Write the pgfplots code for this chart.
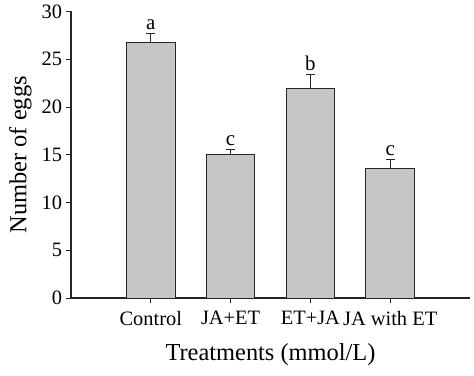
\documentclass[border=0pt]{standalone}
\usepackage{pgfplots}
\pgfplotsset{compat=1.18}
\usepackage{fontspec}
\setmainfont{Liberation Serif}
\begin{document}
\begin{tikzpicture}
\useasboundingbox (-71bp,-78bp) rectangle (403bp,298bp);
\begin{axis}[
  scale only axis,
  width=399bp, height=286.5bp,
  xmin=-1, xmax=4, ymin=0, ymax=30,
  axis x line*=bottom, axis y line*=left,
  axis line style={line width=1.1bp, black!85, -},
  xtick={0,1,2,3},
  xticklabels={Control, JA+ET, ET+JA, JA with ET},
  ytick={0,5,...,30},
  tick align=outside,
  major tick length=4.5bp,
  tick style={line width=0.9bp, black!85},
  tick label style={font=\fontsize{20.5}{24}\selectfont},
  /pgf/number format/assume math mode=true,
  xticklabel style={yshift=-5bp},
  yticklabel style={xshift=-1bp},
  xlabel={Treatments (mmol/L)},
  ylabel={Number of eggs},
  label style={font=\fontsize{24.5}{28}\selectfont},
  xlabel style={yshift=-11bp},
  ylabel style={yshift=3bp},
  clip=false,
]
\addplot[ybar, bar width=0.61, fill={rgb,255:red,198;green,198;blue,198}, draw=black!85, line width=0.9bp,
  error bars/.cd, y dir=plus, y explicit,
  error bar style={line width=0.9bp, black!85},
  error mark options={rotate=90, mark size=4.5bp, line width=0.9bp, black!85}]
  coordinates {
  (0,26.75) +- (0,1.0)
  (1,15.0) +- (0,0.55)
  (2,21.9) +- (0,1.5)
  (3,13.6) +- (0,0.95)
};
\addplot[draw=none, mark=none, nodes near coords, point meta=explicit symbolic,
  every node near coord/.append style={font=\fontsize{21}{24}\selectfont, anchor=south, yshift=0bp}]
  coordinates {
  (0,27.75) [a]
  (1,15.55) [c]
  (2,23.4) [b]
  (3,14.55) [c]
};
\end{axis}
\end{tikzpicture}
\end{document}
